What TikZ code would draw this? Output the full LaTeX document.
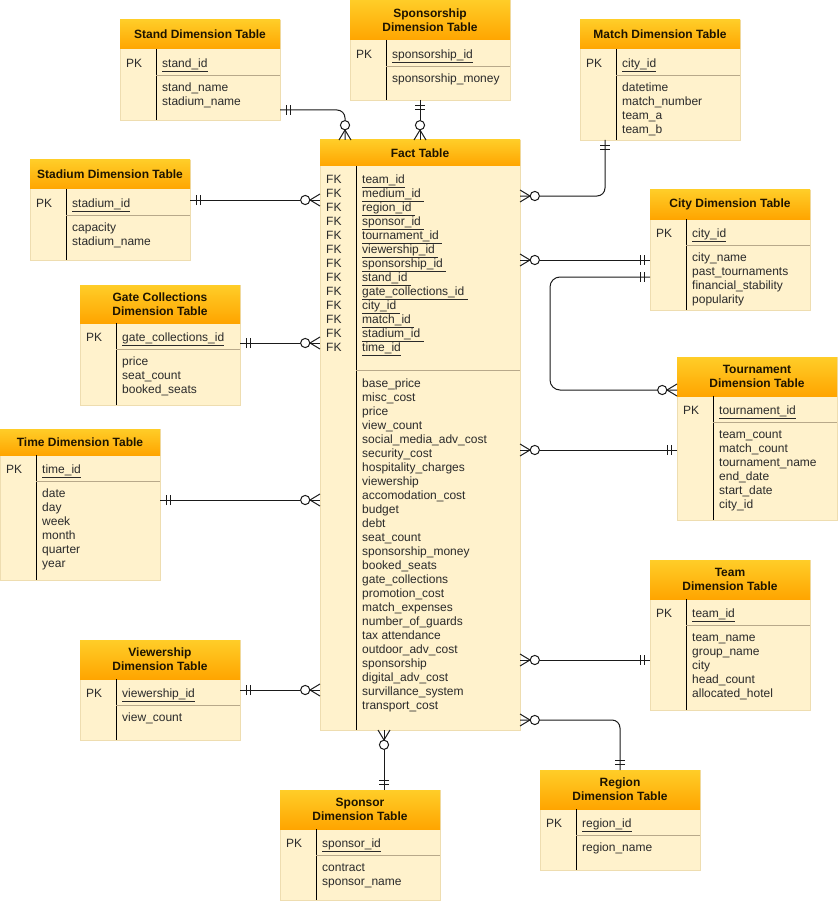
\documentclass[tikz,border=0pt]{standalone}
\usepackage{fontspec}
\setmainfont{Liberation Sans}
\usetikzlibrary{decorations.markings}

\definecolor{hdtop}{HTML}{FFCD28}
\definecolor{hdbot}{HTML}{FFA500}
\definecolor{bodyfill}{HTML}{FFF2CC}
\definecolor{bodyline}{HTML}{EEDDB0}
\definecolor{sepcol}{HTML}{B8A98A}
\definecolor{txtcol}{HTML}{2A2A2A}
\definecolor{hdtxt}{HTML}{1E1400}
\definecolor{lnc}{HTML}{1A1A1A}

\tikzset{
  tablebody/.style={rectangle, fill=bodyfill, draw=bodyline, line width=0.6pt, inner sep=0pt, outer sep=0pt},
  titletext/.style={inner sep=0pt, align=center, text=hdtxt, font=\fontsize{12pt}{14pt}\selectfont\bfseries},
  rowtext/.style={anchor=base west, inner sep=0pt, text=txtcol, font=\fontsize{12pt}{14pt}\selectfont},
  divider/.style={draw=black, line width=1pt},
  sepline/.style={draw=sepcol, line width=0.8pt},
  rel/.style={draw=lnc, line width=1pt, rounded corners=8pt, postaction={decorate},
    decoration={markings,
      mark=at position 6pt with {\draw[draw=lnc, line width=1pt] (0pt,-5pt) -- (0pt,5pt);},
      mark=at position 10pt with {\draw[draw=lnc, line width=1pt] (0pt,-5pt) -- (0pt,5pt);},
      mark=at position -10pt with {\draw[draw=lnc, line width=1pt] (0pt,0pt) -- (10pt,6pt) (0pt,0pt) -- (10pt,-6pt);
        \draw[draw=lnc, line width=1pt, fill=white] (-4.8pt,0pt) circle (4.6pt);}
    }}
}

% #1 name, #2 left, #3 top, #4 header bottom, #5 bottom, #6 width, #7 title, #8 key, #9 attributes
\newcommand\dimtable[9]{%
  \node[tablebody, anchor=north west, minimum width=#6pt, minimum height={(#5-#3)*1pt}] (#1) at (#2,#3) {};
  \shade[top color=hdtop, bottom color=hdbot] (#2,#3) rectangle ({#2+#6},#4);
  \node[titletext] (#1-title) at ({#2+#6/2},{(#3+#4)/2}) {#7};
  \draw[divider] ({#2+36},#4) -- ({#2+36},#5);
  \draw[sepline] ({#2+36},{#4+26}) -- ({#2+#6},{#4+26});
  \node[rowtext] (#1-pk) at ({#2+6},{#4+18.5}) {PK};
  \node[rowtext] (#1-key) at ({#2+42},{#4+18.5}) {\underline{#8}};
  \foreach \f [count=\i] in {#9} {\node[rowtext] (#1-f\i) at ({#2+42},{#4+28.5+14*\i}) {\f};}
}

\begin{document}
\begin{tikzpicture}[x=1pt, y=-1pt]
\fill[white] (0,0) rectangle (839,904);
\useasboundingbox (0,0) rectangle (839,904);

% ---------- fact table ----------
\node[tablebody, anchor=north west, minimum width=200pt, minimum height=590pt] (fact) at (320,140) {};
\shade[top color=hdtop, bottom color=hdbot] (320,140) rectangle (520,166);
\node[titletext] (fact-title) at (420,153) {Fact Table};
\draw[divider] (356,166) -- (356,730);
\draw[sepline] (356,370) -- (520,370);
\foreach \k [count=\i from 0] in {team\_id, medium\_id\ , region\_id\ , sponsor\_id\ , tournament\_id\ ,
    viewership\_id\ , sponsorship\_id\ , stand\_id\ , gate\_collections\_id\ , city\_id\ , match\_id\ ,
    stadium\_id\ , time\_id} {
  \node[rowtext] (fact-fk\i) at (326,{183.5+14*\i}) {FK};
  \node[rowtext] (fact-key\i) at (362,{183.5+14*\i}) {\underline{\k}};
}
\foreach \f [count=\i from 0] in {base\_price, misc\_cost, price, view\_count, social\_media\_adv\_cost,
    security\_cost, hospitality\_charges, viewership, accomodation\_cost, budget, debt, seat\_count,
    sponsorship\_money, booked\_seats, gate\_collections, promotion\_cost, match\_expenses,
    number\_of\_guards, tax attendance, outdoor\_adv\_cost, sponsorship, digital\_adv\_cost,
    survillance\_system, transport\_cost} {
  \node[rowtext] (fact-f\i) at (362,{387.5+14*\i}) {\f};
}

% ---------- dimension tables ----------
\dimtable{stand}{120}{20}{49}{120}{160}{Stand Dimension Table}{stand\_id}{stand\_name, stadium\_name}
\dimtable{sponsorship}{350}{0}{40}{100}{160}{Sponsorship\\Dimension Table}{sponsorship\_id}{sponsorship\_money}
\dimtable{match}{580}{20}{49}{140}{160}{Match Dimension Table}{city\_id}{datetime, match\_number, team\_a, team\_b}
\dimtable{stadium}{30}{160}{189}{260}{160}{Stadium Dimension Table}{stadium\_id}{capacity, stadium\_name}
\dimtable{city}{650}{190}{219}{310}{160}{City Dimension Table}{city\_id}{city\_name, past\_tournaments, financial\_stability, popularity}
\dimtable{gate}{80}{285}{323}{405}{160}{Gate Collections\\Dimension Table}{gate\_collections\_id}{price, seat\_count, booked\_seats}
\dimtable{tournament}{677}{357}{396}{520}{160}{Tournament\\Dimension Table}{tournament\_id}{team\_count, match\_count, tournament\_name, end\_date, start\_date, city\_id}
\dimtable{time}{0}{429}{455}{580}{160}{Time Dimension Table}{time\_id}{date, day, week, month, quarter, year}
\dimtable{team}{650}{560}{599}{710}{160}{Team\\Dimension Table}{team\_id}{team\_name, group\_name, city, head\_count, allocated\_hotel}
\dimtable{viewership}{80}{640}{679}{740}{160}{Viewership\\Dimension Table}{viewership\_id}{view\_count}
\dimtable{sponsor}{280}{790}{829}{900}{160}{Sponsor\\Dimension Table}{sponsor\_id}{contract, sponsor\_name}
\dimtable{region}{540}{770}{809}{870}{160}{Region\\Dimension Table}{region\_id}{region\_name}

% ---------- connector end points ----------
\coordinate (stand-r) at ([yshift=10pt]stand.south east);
\coordinate (fact-t1) at ([xshift=25pt]fact.north west);
\coordinate (match-b) at ([xshift=25pt]match.south west);
\coordinate (fact-r1) at ([yshift=-56pt]fact.north east);
\coordinate (stadium-r) at ([yshift=-40pt]stadium.north east);
\coordinate (city-l1) at ([yshift=-70pt]city.north west);
\coordinate (city-l2) at ([yshift=-87pt]city.north west);
\coordinate (city-loop) at ([xshift=-100pt]city-l2);
\coordinate (tour-l1) at ([yshift=-33pt]tournament.north west);
\coordinate (tour-l2) at ([yshift=-93pt]tournament.north west);
\coordinate (gate-r) at ([yshift=-58pt]gate.north east);
\coordinate (time-r) at ([yshift=-71pt]time.north east);
\coordinate (team-l) at ([yshift=-100pt]team.north west);
\coordinate (view-r) at ([yshift=-50pt]viewership.north east);
\coordinate (sponsor-t) at ([xshift=24pt]sponsor.north);
\coordinate (fact-r2) at ([yshift=10pt]fact.south east);

% ---------- relationships (one-and-only-one to zero-or-many) ----------
\draw[rel] (stand-r) -| (fact-t1);
\draw[rel] (sponsorship.south -| fact.north) -- (fact.north);
\draw[rel] (match-b) |- (fact-r1);
\draw[rel] (stadium-r) -- (stadium-r -| fact.west);
\draw[rel] (city-l1) -- (city-l1 -| fact.east);
\draw[rel, rounded corners=10pt] (city-l2) -- (city-loop) |- (tour-l1);
\draw[rel] (gate-r) -- (gate-r -| fact.west);
\draw[rel] (tour-l2) -- (tour-l2 -| fact.east);
\draw[rel] (time-r) -- (time-r -| fact.west);
\draw[rel] (team-l) -- (team-l -| fact.east);
\draw[rel] (view-r) -- (view-r -| fact.west);
\draw[rel] (sponsor-t) -- (sponsor-t |- fact.south);
\draw[rel] (region.north) |- (fact-r2);
\end{tikzpicture}
\end{document}
